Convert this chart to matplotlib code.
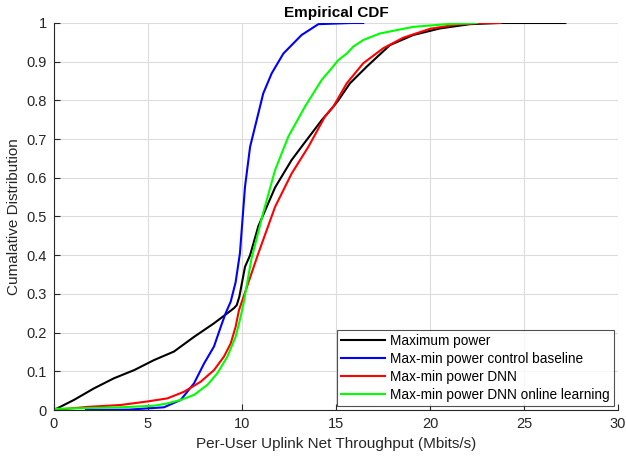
import numpy as np
import matplotlib
matplotlib.use("Agg")
import matplotlib.pyplot as plt

plt.rcParams['font.family'] = ['Liberation Sans', 'DejaVu Sans']

# empirical CDF curves (throughput in Mbit/s, cumulative probability)
max_power_x = [0, 1.06, 2.13, 3.19, 4.26, 5.32, 6.38, 7.45, 8.51, 9.22, 9.57, 9.72, 9.86, 10.16,
               10.43, 10.87, 11.76, 12.64, 13.35, 14.24, 14.86, 15.12, 15.74, 16.63, 17.87,
               19.11, 20.53, 22.13, 23.7, 27.2]
max_power_y = [0, 0.026, 0.056, 0.082, 0.103, 0.129, 0.151, 0.189, 0.224, 0.25, 0.263, 0.271,
               0.293, 0.37, 0.40, 0.475, 0.575, 0.646, 0.692, 0.749, 0.784, 0.80, 0.844, 0.887,
               0.943, 0.969, 0.986, 0.997, 1.0, 1.0]

baseline_x = [1.7, 4.0, 5.85, 6.74, 7.45, 7.98, 8.51, 8.87, 9.13, 9.4, 9.66, 9.89, 10.16,
              10.43, 10.78, 11.13, 11.58, 12.2, 13.17, 14.06, 15.8, 16.45]
baseline_y = [0, 0.001, 0.007, 0.026, 0.069, 0.12, 0.164, 0.215, 0.25, 0.28, 0.33, 0.405,
              0.577, 0.68, 0.749, 0.818, 0.87, 0.921, 0.969, 0.997, 1.0, 1.0]

dnn_x = [0, 1.77, 3.55, 4.96, 6.03, 6.91, 7.8, 8.51, 9.04, 9.4, 9.66, 9.84, 10.1, 10.87, 11.76,
         12.64, 13.53, 14.41, 14.86, 15.57, 16.45, 17.52, 18.58, 20.0, 21.42, 22.66, 23.72]
dnn_y = [0, 0.008, 0.013, 0.022, 0.03, 0.047, 0.073, 0.103, 0.138, 0.172, 0.215, 0.258, 0.295,
         0.405, 0.525, 0.611, 0.68, 0.758, 0.784, 0.844, 0.896, 0.935, 0.962, 0.985, 0.996,
         1.0, 1.0]

online_x = [0, 3.55, 5.32, 6.03, 6.74, 7.45, 8.16, 8.69, 9.22, 9.66, 9.93, 10.1, 10.5, 11.13,
            11.76, 12.46, 13.35, 14.24, 14.68, 15.12, 15.57, 15.92, 16.45, 17.34, 19.11,
            20.89, 22.48]
online_y = [0.003, 0.007, 0.011, 0.017, 0.026, 0.039, 0.065, 0.095, 0.138, 0.189, 0.241, 0.28,
            0.39, 0.51, 0.62, 0.706, 0.784, 0.853, 0.878, 0.904, 0.921, 0.939, 0.956, 0.973,
            0.99, 0.997, 1.0]

labels = ['Maximum power', 'Max-min power control baseline',
          'Max-min power DNN', 'Max-min power DNN online learning']

fig = plt.figure(figsize=(6.26, 4.61), dpi=100)
ax = fig.add_axes([54/626, 51/461, 564/626, 387/461])

ax.plot(max_power_x, max_power_y, color='k', lw=1.5, label=labels[0])
ax.plot(baseline_x, baseline_y, color=(0, 0, 1), lw=1.5, label=labels[1])
ax.plot(dnn_x, dnn_y, color=(1, 0, 0), lw=1.5, label=labels[2])
ax.plot(online_x, online_y, color=(0, 1, 0), lw=1.5, label=labels[3])

ax.set_xlim(0, 30)
ax.set_ylim(0, 1)
ax.set_xticks(np.arange(0, 31, 5))
ax.set_yticks(np.arange(0, 1.01, 0.1))
ax.set_yticklabels(['0'] + ['%.1f' % v for v in np.arange(0.1, 0.95, 0.1)] + ['1'])
ax.grid(True, color='#dcdcdc', lw=0.8)
ax.set_axisbelow(True)
for s in ['top', 'right']:
    ax.spines[s].set_visible(False)
for s in ['left', 'bottom']:
    ax.spines[s].set_color('#262626')
    ax.spines[s].set_linewidth(0.8)
ax.tick_params(direction='in', length=4, width=0.8, colors='#262626',
               labelsize=10.5, pad=5)

ax.set_title('Empirical CDF', fontsize=11, fontweight='bold', pad=4)
ax.set_xlabel('Per-User Uplink Net Throughput (Mbits/s)', fontsize=11, color='#262626')
ax.set_ylabel('Cumalative Distribution', fontsize=11, color='#262626')

leg = ax.legend(loc='lower right', fontsize=9.8, frameon=True, fancybox=False,
                borderpad=0.3, labelspacing=0.3, handlelength=3.2,
                handletextpad=0.4, borderaxespad=0.3)
leg.get_frame().set_edgecolor('#262626')
leg.get_frame().set_linewidth(0.8)

fig.savefig('out.png', dpi=100)
